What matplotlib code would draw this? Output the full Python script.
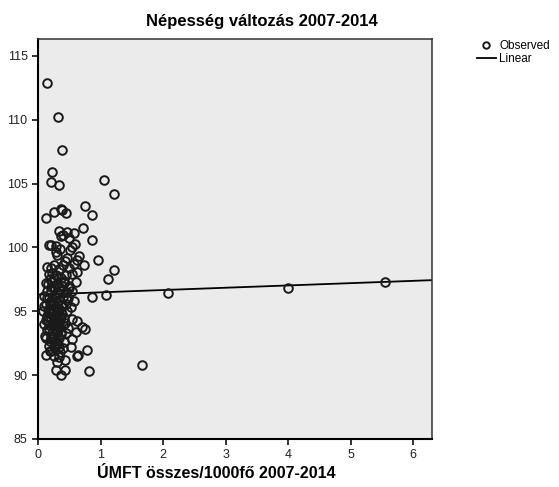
import numpy as np
import matplotlib.pyplot as plt

plt.rcParams['font.family'] = ['Liberation Sans', 'DejaVu Sans']

# observed points (UMFT per 1000, population change)
umft = [0.15, 0.32, 0.38, 0.22, 0.20, 0.33, 1.05, 1.22, 0.12, 0.26, 0.37, 0.38, 0.45, 0.75, 0.86,
        0.34, 0.46, 0.58, 0.72, 0.86, 0.37, 0.50, 0.40,
        0.17, 0.21, 0.35, 0.51, 0.59, 0.55, 0.28,
        0.65, 0.96, 0.47, 0.30, 0.43, 0.62,
        1.22, 1.12, 0.74, 0.62, 0.25, 0.20, 0.15, 0.33, 0.40, 0.50, 0.55, 0.45, 0.18, 0.28, 0.36, 0.58,
        0.12, 0.22, 0.30, 0.42, 0.50, 0.60, 0.25, 0.35, 0.15, 0.45, 0.55, 0.20,
        0.87, 1.09, 2.07, 4.00, 5.55, 0.10, 0.18, 0.26, 0.33, 0.40, 0.48, 0.58, 0.12, 0.22, 0.30, 0.37, 0.44, 0.52,
        0.08, 0.16, 0.24, 0.31, 0.38, 0.46, 0.14, 0.21, 0.28, 0.35, 0.42, 0.55, 0.62,
        0.10, 0.18, 0.26, 0.33, 0.40, 0.48, 0.70, 0.75, 0.15, 0.22, 0.30, 0.37, 0.45, 0.60,
        0.12, 0.20, 0.27, 0.34, 0.41, 0.55, 0.18, 0.25, 0.32, 0.40, 0.52, 0.78,
        0.19, 0.13, 0.25, 0.35, 0.43, 0.64, 0.62, 0.30,
        0.28, 0.43, 0.36, 0.82, 1.66,
        0.20, 0.27, 0.34, 0.16, 0.29, 0.24, 0.31, 0.19, 0.39, 0.23, 0.36, 0.27, 0.21, 0.33,
        0.14, 0.19, 0.24, 0.29, 0.34, 0.17, 0.22, 0.27, 0.32, 0.38, 0.13, 0.18, 0.23, 0.28,
        0.33, 0.20, 0.25, 0.30, 0.35, 0.16, 0.21, 0.26, 0.31, 0.36, 0.24, 0.29, 0.19, 0.34,
        0.43, 0.47, 0.41, 0.49, 0.11, 0.09, 0.23, 0.28]
nepesseg = [112.9, 110.2, 107.6, 105.9, 105.1, 104.9, 105.3, 104.2, 102.3, 102.8, 103.0, 102.9, 102.7, 103.2, 102.5,
            101.3, 101.2, 101.1, 101.5, 100.6, 100.9, 100.7, 101.0,
            100.2, 100.2, 99.9, 99.8, 100.3, 100.0, 100.1,
            99.3, 99.0, 99.2, 99.4, 98.9, 99.0,
            98.2, 97.5, 98.6, 98.1, 98.6, 98.4, 98.5, 98.3, 98.6, 98.4, 97.9, 97.8, 97.9, 97.8, 97.6, 98.7,
            97.2, 97.3, 97.1, 97.2, 97.0, 97.3, 96.8, 96.7, 96.6, 96.5, 96.6, 96.9,
            96.1, 96.3, 96.4, 96.8, 97.3, 96.2, 96.0, 96.2, 95.9, 96.1, 96.0, 95.8, 95.6, 95.5, 95.7, 95.4, 95.6, 95.3,
            95.0, 95.1, 94.9, 95.2, 94.8, 95.0, 94.6, 94.4, 94.6, 94.3, 94.5, 94.4, 94.2,
            94.0, 93.9, 94.1, 93.8, 93.9, 93.7, 93.8, 93.6, 93.5, 93.3, 93.4, 93.2, 93.3, 93.4,
            92.9, 92.8, 92.7, 92.9, 92.6, 92.8, 92.3, 92.2, 92.4, 92.1, 92.2, 92.0,
            91.9, 91.6, 91.5, 91.8, 91.2, 91.6, 91.5, 91.0,
            90.4, 90.4, 90.0, 90.3, 90.8,
            95.8, 95.3, 96.4, 94.2, 93.9, 93.0, 96.5, 97.5, 97.0, 94.8, 95.0, 92.3, 91.9, 91.4,
            96.0, 95.6, 95.2, 94.7, 94.1, 93.6, 93.9, 94.4, 95.1, 95.5, 94.3, 94.9, 95.7, 96.1,
            96.9, 93.1, 92.7, 93.6, 94.6, 97.1, 96.6, 97.6, 95.0, 93.4, 94.0, 92.5, 92.7, 92.2,
            94.1, 95.9, 97.4, 96.8, 93.1, 95.4, 98.0, 99.6]

# linear fit
intercept = 96.3
slope = 0.18
x_fit = [0, 6.3]

fig = plt.figure(figsize=(5.59, 4.87), dpi=100)
ax = fig.add_axes([0.068, 0.0986, 0.705, 0.821])
ax.set_facecolor('#ebebeb')

ax.plot(umft, nepesseg, 'o', ms=6.2, mfc='none', mec='#1a1a1a', mew=1.4, label='Observed', zorder=3)
ax.plot(x_fit, [intercept + slope * x for x in x_fit], color='black', lw=1.3, label='Linear', zorder=2)

ax.set_xlim(0, 6.3)
ax.set_ylim(85, 116.3)
ax.set_xticks(range(0, 7))
ax.set_yticks(range(85, 116, 5))
ax.tick_params(axis='both', labelsize=9, length=4, width=1.3, colors='#222222')
ax.tick_params(axis='x', pad=3)

for s in ['left', 'bottom']:
    ax.spines[s].set_linewidth(1.5)
    ax.spines[s].set_color('black')
for s in ['top', 'right']:
    ax.spines[s].set_linewidth(1.1)
    ax.spines[s].set_color('#333333')

fig.text(0.468, 0.955, 'Népesség változás 2007-2014', ha='center', va='center',
         fontsize=12, fontweight='bold')
fig.text(0.387, 0.028, 'ÚMFT összes/1000fő 2007-2014', ha='center', va='center',
         fontsize=11.5, fontweight='bold')

ax.legend(loc='upper left', bbox_to_anchor=(0.853, 0.918), bbox_transform=fig.transFigure,
          frameon=False, fontsize=8.5, handlelength=1.6, handletextpad=0.3,
          labelspacing=0.1, borderpad=0, borderaxespad=0, markerscale=0.75)

fig.savefig('out.png', dpi=100)
